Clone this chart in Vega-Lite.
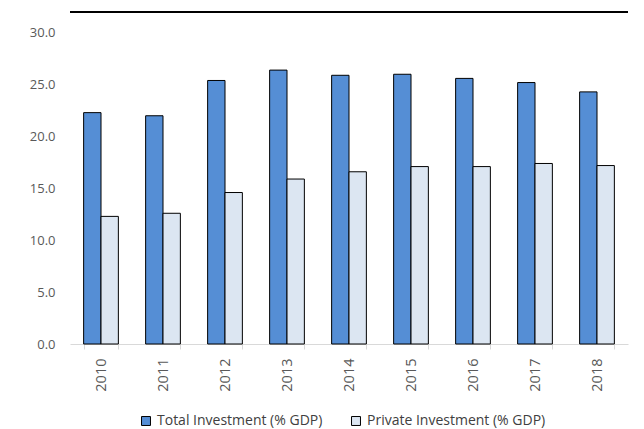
{
  "$schema": "https://vega.github.io/schema/vega-lite/v6.json",
  "width": 558,
  "height": 332,
  "autosize": {"type": "none"},
  "padding": {"left": 70, "top": 12, "right": 16, "bottom": 85},
  "background": "white",
  "config": {
    "view": {"stroke": null},
    "font": "Open Sans"
  },
  "data": {
    "values": [
      {"year": "2010", "series": "Total Investment (% GDP)", "value": 22.3},
      {"year": "2010", "series": "Private Investment (% GDP)", "value": 12.3},
      {"year": "2011", "series": "Total Investment (% GDP)", "value": 22.0},
      {"year": "2011", "series": "Private Investment (% GDP)", "value": 12.6},
      {"year": "2012", "series": "Total Investment (% GDP)", "value": 25.4},
      {"year": "2012", "series": "Private Investment (% GDP)", "value": 14.6},
      {"year": "2013", "series": "Total Investment (% GDP)", "value": 26.4},
      {"year": "2013", "series": "Private Investment (% GDP)", "value": 15.9},
      {"year": "2014", "series": "Total Investment (% GDP)", "value": 25.9},
      {"year": "2014", "series": "Private Investment (% GDP)", "value": 16.6},
      {"year": "2015", "series": "Total Investment (% GDP)", "value": 26.0},
      {"year": "2015", "series": "Private Investment (% GDP)", "value": 17.1},
      {"year": "2016", "series": "Total Investment (% GDP)", "value": 25.6},
      {"year": "2016", "series": "Private Investment (% GDP)", "value": 17.1},
      {"year": "2017", "series": "Total Investment (% GDP)", "value": 25.2},
      {"year": "2017", "series": "Private Investment (% GDP)", "value": 17.4},
      {"year": "2018", "series": "Total Investment (% GDP)", "value": 24.3},
      {"year": "2018", "series": "Private Investment (% GDP)", "value": 17.2}
    ]
  },
  "layer": [
    {
      "mark": {"type": "bar", "stroke": "black", "strokeWidth": 1},
      "encoding": {
        "x": {
          "field": "year", "type": "nominal", "title": null,
          "scale": {"paddingInner": 0.44, "paddingOuter": 0.22},
          "axis": {
            "labelAngle": -90, "labelFontSize": 14.5, "labelColor": "#595959",
            "labelPadding": 9, "domainColor": "#d9d9d9", "tickColor": "#d9d9d9",
            "tickBand": "extent", "tickSize": 5, "labelBaseline": "middle"
          }
        },
        "xOffset": {"field": "series", "type": "nominal", "sort": ["Total Investment (% GDP)", "Private Investment (% GDP)"]},
        "y": {
          "field": "value", "type": "quantitative", "title": null,
          "scale": {"domain": [0, 32], "nice": false},
          "axis": {
            "values": [0, 5, 10, 15, 20, 25, 30], "format": ".1f",
            "grid": false, "domain": false, "ticks": false,
            "labelFontSize": 13, "labelColor": "#595959", "labelPadding": 15
          }
        },
        "color": {
          "field": "series", "type": "nominal",
          "sort": ["Total Investment (% GDP)", "Private Investment (% GDP)"],
          "scale": {"domain": ["Total Investment (% GDP)", "Private Investment (% GDP)"], "range": ["#558ED5", "#DCE6F2"]},
          "legend": {
            "title": null, "orient": "none", "legendX": 69, "legendY": 402, "direction": "horizontal",
            "symbolType": "square", "symbolSize": 80, "symbolStrokeColor": "black",
            "symbolStrokeWidth": 1, "labelFontSize": 14, "labelColor": "#404040",
            "labelLimit": 300, "columnPadding": 26, "labelOffset": 4
          }
        }
      }
    },
    {
      "mark": {"type": "rule", "color": "black", "strokeWidth": 2},
      "encoding": {"y": {"datum": 32}}
    }
  ]
}
